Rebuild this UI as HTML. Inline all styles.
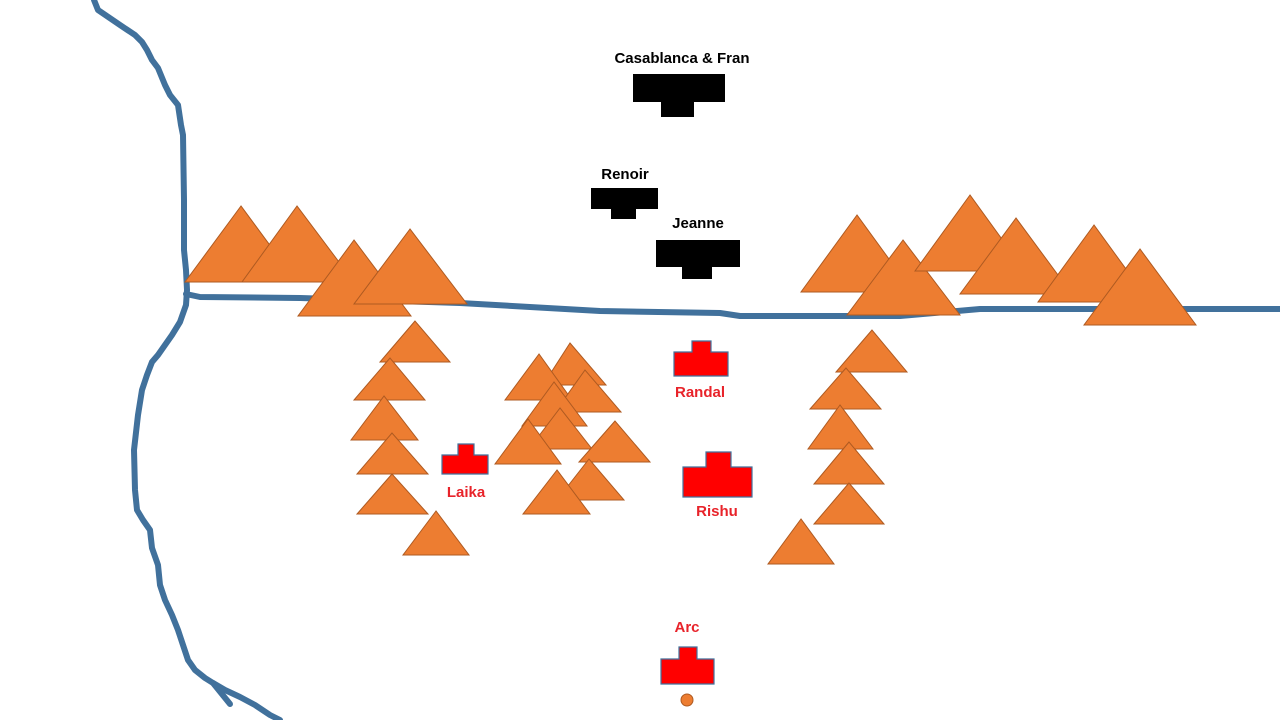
<!DOCTYPE html>
<html><head><meta charset="utf-8"><style>
html,body{margin:0;padding:0;background:#fff;}
svg{display:block;}
text{font-family:"Liberation Sans",sans-serif;font-weight:bold;font-size:15px;}
</style></head><body>
<svg width="1280" height="720" viewBox="0 0 1280 720" xmlns="http://www.w3.org/2000/svg">
<g fill="none" stroke="#41719c" stroke-width="6" stroke-linejoin="round" stroke-linecap="round">
<polyline points="94,0 98,10 120,25 135,35 142,42 147,50 152,60 158,68 165,85 170,95 178,105 181,125 183,135 184,200 184,250 186,270 187,290 186,305 180,322 172,335 165,345 158,355 152,362 147,375 142,390 138,415 134,450 135,490 137,510 143,520 150,530 152,548 158,565 160,585 165,600 172,615 178,630 183,645 188,660 195,670 205,678 213,683 225,690 240,697 255,705 270,715 280,720"/>
<polyline points="213,683 230,704"/>
<polyline points="186,294 200,297 300,298 460,303 600,311 720,313 740,316 900,316 980,309 1280,309"/>
</g>
<g fill="#ed7d31" stroke="#ae5a21" stroke-width="1">
<polygon points="241,206 185,282 297,282"/>
<polygon points="297,206 242,282 354,282"/>
<polygon points="354,240 298,316 411,316"/>
<polygon points="410,229 354,304 467,304"/>
<polygon points="415,321 380,362 450,362"/>
<polygon points="390,358 354,400 425,400"/>
<polygon points="384,396 351,440 418,440"/>
<polygon points="392,433 357,474 428,474"/>
<polygon points="392,474 357,514 428,514"/>
<polygon points="436,511 403,555 469,555"/>
<polygon points="570,343 543,385 606,385"/>
<polygon points="539,354 505,400 572,400"/>
<polygon points="585,370 555,412 621,412"/>
<polygon points="554,382 522,426 587,426"/>
<polygon points="560,408 529,449 592,449"/>
<polygon points="615,421 579,462 650,462"/>
<polygon points="528,419 495,464 561,464"/>
<polygon points="589,459 557,500 624,500"/>
<polygon points="557,470 523,514 590,514"/>
<polygon points="872,330 836,372 907,372"/>
<polygon points="846,368 810,409 881,409"/>
<polygon points="840,405 808,449 873,449"/>
<polygon points="849,442 814,484 884,484"/>
<polygon points="849,483 814,524 884,524"/>
<polygon points="801,519 768,564 834,564"/>
<polygon points="857,215 801,292 913,292"/>
<polygon points="903,240 847,315 960,315"/>
<polygon points="970,195 915,271 1025,271"/>
<polygon points="1016,218 960,294 1072,294"/>
<polygon points="1094,225 1038,302 1150,302"/>
<polygon points="1140,249 1084,325 1196,325"/>
</g>
<g fill="#000">
<polygon points="633,74 725,74 725,102 694,102 694,117 661,117 661,102 633,102"/>
<polygon points="591,188 658,188 658,209 636,209 636,219 611,219 611,209 591,209"/>
<polygon points="656,240 740,240 740,267 712,267 712,279 682,279 682,267 656,267"/>
</g>
<g fill="#ff0000" stroke="#41719c" stroke-width="1.2">
<polygon points="692,341 711,341 711,352 728,352 728,376 674,376 674,352 692,352"/>
<polygon points="458,444 474,444 474,455 488,455 488,474 442,474 442,455 458,455"/>
<polygon points="706,452 731,452 731,467 752,467 752,497 683,497 683,467 706,467"/>
<polygon points="679,647 697,647 697,659 714,659 714,684 661,684 661,659 679,659"/>
</g>
<circle cx="687" cy="700" r="6" fill="#ed7d31" stroke="#ae5a21" stroke-width="1"/>
<g fill="#000" text-anchor="middle">
<text x="682" y="63">Casablanca &amp; Fran</text>
<text x="625" y="179">Renoir</text>
<text x="698" y="228">Jeanne</text>
</g>
<g fill="#e8232a" text-anchor="middle">
<text x="700" y="397">Randal</text>
<text x="466" y="497">Laika</text>
<text x="717" y="516">Rishu</text>
<text x="687" y="632">Arc</text>
</g>
</svg>
</body></html>
